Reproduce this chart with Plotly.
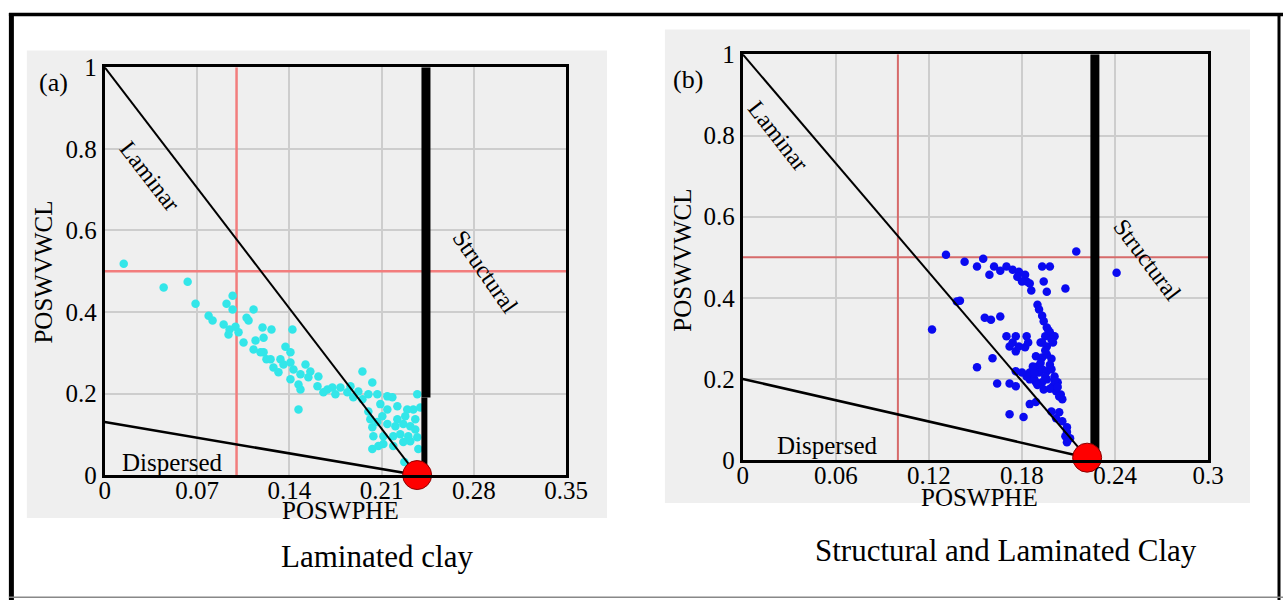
import plotly.graph_objects as go

# ---------------- data: panel (a) Laminated clay ----------------
a_x = [0.0144, 0.0447, 0.0629, 0.0689, 0.097, 0.0924, 0.097, 0.1129, 0.0788, 0.0818,
       0.0902, 0.0947, 0.0992, 0.1091, 0.0939, 0.1053, 0.1197, 0.1144, 0.1205, 0.1129,
       0.1205, 0.1227, 0.1265, 0.1424, 0.1182, 0.1409, 0.1258, 0.1333, 0.128, 0.1356,
       0.1409, 0.1432, 0.1485, 0.156, 0.1318, 0.1409, 0.147, 0.1485, 0.1545, 0.1621,
       0.1614, 0.1689, 0.1727, 0.1788, 0.1659, 0.1841, 0.1886, 0.1864, 0.1955, 0.203,
       0.147, 0.1955, 0.2, 0.2068, 0.2144, 0.2182, 0.2371, 0.2, 0.2015, 0.203,
       0.2038, 0.203, 0.2106, 0.2144, 0.222, 0.2295, 0.2341, 0.2394, 0.2068, 0.2144,
       0.2205, 0.2265, 0.2318, 0.2114, 0.2189, 0.2242, 0.2303, 0.2371, 0.2114, 0.2189,
       0.2265, 0.2318, 0.2273, 0.2379, 0.222, 0.228, 0.1076, 0.1015, 0.1371, 0.1523,
       0.175, 0.1924, 0.2091, 0.2356, 0.2356, 0.2076]
a_y = [0.518, 0.460, 0.474, 0.420, 0.440, 0.420, 0.406, 0.406, 0.391, 0.379,
       0.369, 0.357, 0.364, 0.379, 0.345, 0.325, 0.362, 0.330, 0.337, 0.308,
       0.301, 0.284, 0.357, 0.357, 0.301, 0.301, 0.284, 0.284, 0.264, 0.271,
       0.276, 0.259, 0.247, 0.254, 0.252, 0.235, 0.222, 0.210, 0.240, 0.242,
       0.218, 0.210, 0.215, 0.215, 0.203, 0.203, 0.191, 0.218, 0.254, 0.227,
       0.161, 0.186, 0.198, 0.198, 0.193, 0.191, 0.198, 0.156, 0.137, 0.117,
       0.095, 0.064, 0.144, 0.161, 0.169, 0.161, 0.161, 0.166, 0.130, 0.125,
       0.120, 0.125, 0.120, 0.095, 0.095, 0.100, 0.095, 0.093, 0.076, 0.071,
       0.081, 0.083, 0.032, 0.064, 0.137, 0.144, 0.386, 0.350, 0.315, 0.271,
       0.198, 0.205, 0.174, 0.137, 0.112, 0.071]

# ---------------- data: panel (b) Structural and Laminated clay ----------------
b_x = [0.131, 0.143, 0.155, 0.151, 0.162, 0.159, 0.166, 0.170, 0.174, 0.178,
       0.177, 0.182, 0.183, 0.185, 0.186, 0.180, 0.193, 0.198, 0.194, 0.196,
       0.208, 0.215, 0.241, 0.122, 0.138, 0.140, 0.156, 0.160, 0.166, 0.190,
       0.191, 0.193, 0.194, 0.196, 0.198, 0.201, 0.195, 0.193, 0.196, 0.199,
       0.170, 0.176, 0.183, 0.172, 0.176, 0.182, 0.184, 0.174, 0.178, 0.189,
       0.193, 0.196, 0.161, 0.151, 0.190, 0.187, 0.193, 0.191, 0.185, 0.196,
       0.199, 0.201, 0.196, 0.193, 0.189, 0.185, 0.183, 0.200, 0.203, 0.202,
       0.194, 0.176, 0.180, 0.164, 0.172, 0.176, 0.205, 0.206, 0.185, 0.189,
       0.172, 0.181, 0.199, 0.204, 0.202, 0.206, 0.209, 0.209, 0.211, 0.208,
       0.209, 0.204, 0.188, 0.192, 0.197, 0.200, 0.195, 0.199, 0.192, 0.198,
       0.188, 0.195, 0.201, 0.190, 0.198, 0.203]
b_y = [0.506, 0.489, 0.496, 0.477, 0.477, 0.457, 0.467, 0.477, 0.469, 0.464,
       0.452, 0.457, 0.440, 0.435, 0.418, 0.440, 0.477, 0.477, 0.440, 0.415,
       0.423, 0.514, 0.462, 0.322, 0.391, 0.393, 0.351, 0.346, 0.354, 0.383,
       0.371, 0.356, 0.342, 0.327, 0.315, 0.305, 0.305, 0.290, 0.280, 0.297,
       0.305, 0.305, 0.305, 0.280, 0.268, 0.278, 0.290, 0.290, 0.280, 0.256,
       0.253, 0.260, 0.251, 0.229, 0.231, 0.231, 0.224, 0.216, 0.216, 0.219,
       0.224, 0.206, 0.199, 0.192, 0.192, 0.199, 0.206, 0.182, 0.192, 0.170,
       0.174, 0.219, 0.216, 0.189, 0.189, 0.182, 0.162, 0.150, 0.138, 0.143,
       0.113, 0.106, 0.120, 0.118, 0.103, 0.096, 0.081, 0.069, 0.054, 0.059,
       0.044, 0.157, 0.199, 0.290, 0.320, 0.290, 0.270, 0.250, 0.240, 0.235,
       0.214, 0.205, 0.195, 0.185, 0.176, 0.180]

# ---------------- axes / reference lines ----------------
xa_ticks = [0, 0.07, 0.14, 0.21, 0.28, 0.35]
xa_labels = ["0", "0.07", "0.14", "0.21", "0.28", "0.35"]
xb_ticks = [0, 0.06, 0.12, 0.18, 0.24, 0.3]
xb_labels = ["0", "0.06", "0.12", "0.18", "0.24", "0.3"]
y_ticks = [0, 0.2, 0.4, 0.6, 0.8, 1]
y_labels = ["0", "0.2", "0.4", "0.6", "0.8", "1"]

a_xmax, b_xmax = 0.35, 0.3
a_cut_x, a_cut_y = 0.1, 0.5
b_cut_x, b_cut_y = 0.1, 0.5
a_shale = [0.237, 0.0]
b_shale = [0.222, 0.006]
a_disp_y0 = 0.13
b_disp_y0 = 0.2
a_struct_x_up, a_struct_x_lo, a_struct_break = 0.2437, 0.2425, 0.19
b_struct_x = 0.227

# ---------------- layout geometry ----------------
# the photographed picture maps page pixels as  X = SX*x + OX,  Y = SY*y + OY
SX, OX, SY, OY = 0.98, 5.1, 0.959, 12.5
W, H = 1305, 614
FONT = "Liberation Serif, Times New Roman, serif"

def PX(X):
    return (X - OX) / SX

def PY(Y):
    return (Y - OY) / SY

def pxf(X):
    return PX(X) / W

def pyf(Y):
    return 1 - PY(Y) / H

fig = go.Figure()

def add_panel(xr, yr, xs, ys, color, xmax, cutx, cuty, shale, disp0, redc, redw):
    fig.add_trace(go.Scatter(x=[cutx, cutx], y=[0, 1], mode="lines",
                             line=dict(color=redc, width=redw), xaxis=xr, yaxis=yr, showlegend=False))
    fig.add_trace(go.Scatter(x=[0, xmax], y=[cuty, cuty], mode="lines",
                             line=dict(color=redc, width=redw), xaxis=xr, yaxis=yr, showlegend=False))
    fig.add_trace(go.Scatter(x=xs, y=ys, mode="markers",
                             marker=dict(color=color, size=8.5, line=dict(width=0)),
                             xaxis=xr, yaxis=yr, showlegend=False))
    fig.add_trace(go.Scatter(x=[0, shale[0]], y=[1, shale[1]], mode="lines",
                             line=dict(color="black", width=2), xaxis=xr, yaxis=yr, showlegend=False))
    fig.add_trace(go.Scatter(x=[0, shale[0]], y=[disp0, shale[1]], mode="lines",
                             line=dict(color="black", width=2.5), xaxis=xr, yaxis=yr, showlegend=False))

add_panel("x", "y", a_x, a_y, "#33e6e9", a_xmax, a_cut_x, a_cut_y, a_shale, a_disp_y0, "#f27d7d", 2.5)
add_panel("x2", "y2", b_x, b_y, "#0a0af0", b_xmax, b_cut_x, b_cut_y, b_shale, b_disp_y0, "#d66a6a", 2)

fig.add_trace(go.Scatter(x=[a_struct_x_up, a_struct_x_up], y=[1, a_struct_break], mode="lines",
                         line=dict(color="black", width=9), xaxis="x", yaxis="y", showlegend=False))
fig.add_trace(go.Scatter(x=[a_struct_x_lo, a_struct_x_lo], y=[a_struct_break, 0], mode="lines",
                         line=dict(color="black", width=6), xaxis="x", yaxis="y", showlegend=False))
fig.add_trace(go.Scatter(x=[b_struct_x, b_struct_x], y=[1, 0], mode="lines",
                         line=dict(color="black", width=9), xaxis="x2", yaxis="y2", showlegend=False))

for xr, yr, s in (("x", "y", a_shale), ("x2", "y2", b_shale)):
    fig.add_trace(go.Scatter(x=[s[0]], y=[s[1]], mode="markers", cliponaxis=False,
                             marker=dict(color="#ff0000", size=29, line=dict(color="#8b0000", width=1)),
                             xaxis=xr, yaxis=yr, showlegend=False))

axis_common = dict(showline=True, mirror=True, linecolor="black", linewidth=3,
                   showgrid=True, gridcolor="#cdcdcd", gridwidth=2, zeroline=False,
                   ticks="", tickfont=dict(family=FONT, size=25, color="black"))

fig.update_layout(
    width=W, height=H, margin=dict(l=0, r=0, t=0, b=0),
    paper_bgcolor="white", plot_bgcolor="white", showlegend=False,
    xaxis=dict(domain=[pxf(104), pxf(566)], range=[0, a_xmax], tickvals=xa_ticks, ticktext=xa_labels,
               anchor="y", ticklabelstandoff=-9, **axis_common),
    yaxis=dict(domain=[pyf(476), pyf(67)], range=[0, 1], tickvals=y_ticks, ticktext=y_labels,
               anchor="x", **axis_common),
    xaxis2=dict(domain=[pxf(743), pxf(1209)], range=[0, b_xmax], tickvals=xb_ticks, ticktext=xb_labels,
                anchor="y2", ticklabelstandoff=-9, **axis_common),
    yaxis2=dict(domain=[pyf(461), pyf(54)], range=[0, 1], tickvals=y_ticks, ticktext=y_labels,
                anchor="x2", **axis_common),
)

shapes = [
    dict(type="rect", xref="paper", yref="paper", x0=pxf(26), x1=pxf(607), y0=pyf(519), y1=pyf(50),
         fillcolor="#efefef", line=dict(width=0), layer="below"),
    dict(type="rect", xref="paper", yref="paper", x0=pxf(665), x1=pxf(1251), y0=pyf(504), y1=pyf(29),
         fillcolor="#efefef", line=dict(width=0), layer="below"),
    # outer frame
    dict(type="line", xref="paper", yref="paper", x0=pxf(10.5), x1=pxf(10.5), y0=0, y1=1,
         line=dict(color="black", width=5)),
    dict(type="line", xref="paper", yref="paper", x0=pxf(8), x1=1, y0=1 - 1.5 / H, y1=1 - 1.5 / H,
         line=dict(color="black", width=3.5)),
    dict(type="line", xref="paper", yref="paper", x0=pxf(1280), x1=pxf(1280), y0=0, y1=1,
         line=dict(color="black", width=3)),
    dict(type="line", xref="paper", yref="paper", x0=pxf(8), x1=1, y0=pyf(598.5), y1=pyf(598.5),
         line=dict(color="#888888", width=1.5)),
]
fig.update_layout(shapes=shapes)

def ann(x, y, text, size, angle=0, xref="paper", yref="paper"):
    return dict(x=x, y=y, xref=xref, yref=yref, text=text, showarrow=False, textangle=angle,
                font=dict(family=FONT, size=size, color="black"), xanchor="center", yanchor="middle")

annotations = [
    ann(pxf(53), pyf(82), "(a)", 26),
    ann(pxf(688), pyf(79), "(b)", 26),
    ann(pxf(340), pyf(512), "POSWPHE", 25),
    ann(pxf(980), pyf(499), "POSWPHE", 25),
    ann(pxf(43), pyf(272), "POSWVWCL", 25, -90),
    ann(pxf(683), pyf(260), "POSWVWCL", 25, -90),
    ann(pxf(377), pyf(558), "Laminated clay", 31),
    ann(pxf(1007), pyf(552), "Structural and Laminated Clay", 31),
    ann(0.034, 0.733, "Laminar", 24, 52, "x", "y"),
    ann(0.289, 0.499, "Structural", 24, 55, "x", "y"),
    ann(0.051, 0.032, "Dispersed", 25, 0, "x", "y"),
    ann(0.023, 0.80, "Laminar", 24, 52, "x2", "y2"),
    ann(0.261, 0.494, "Structural", 24, 53, "x2", "y2"),
    ann(0.054, 0.037, "Dispersed", 25, 0, "x2", "y2"),
]
fig.update_layout(annotations=annotations)

fig.write_html(
    "out.html",
    config={"displayModeBar": False},
    post_script="document.body.style.margin='0';document.body.style.padding='0';"
                "document.documentElement.style.overflow='hidden';",
)
